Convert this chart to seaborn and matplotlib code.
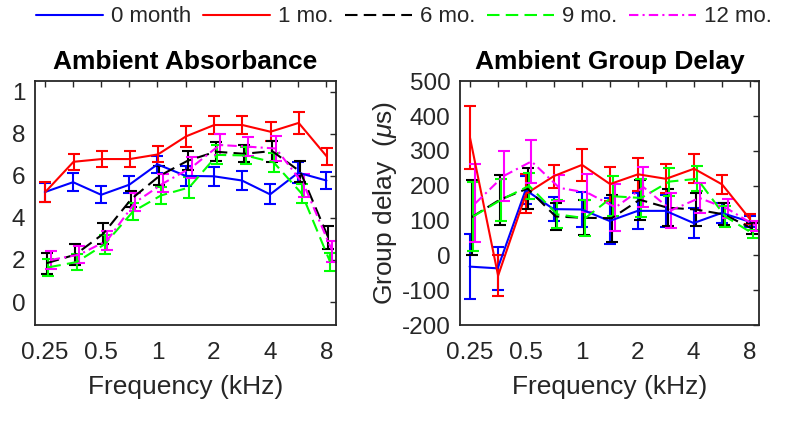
import numpy as np
import pandas as pd
import matplotlib
matplotlib.use('Agg')
import matplotlib.pyplot as plt
from matplotlib.lines import Line2D
import seaborn as sns

# frequencies (kHz), half-octave steps
freqs = [0.25, 0.354, 0.5, 0.707, 1.0, 1.414, 2.0, 2.828, 4.0, 5.657, 8.0]
freq_labels = ['0.25', '', '0.5', '', '1', '', '2', '', '4', '', '8']

groups = ['0 month', '1 mo.', '6 mo.', '9 mo.', '12 mo.']

# ambient absorbance (mean, error)
abs_0 = [0.523, 0.570, 0.510, 0.558, 0.655, 0.600, 0.598, 0.578, 0.512, 0.615, 0.578]
abs_0_err = [0.045, 0.042, 0.040, 0.040, 0.040, 0.048, 0.045, 0.043, 0.048, 0.050, 0.042]
abs_1 = [0.523, 0.667, 0.680, 0.680, 0.702, 0.788, 0.842, 0.842, 0.810, 0.852, 0.692]
abs_1_err = [0.047, 0.037, 0.037, 0.037, 0.038, 0.050, 0.045, 0.043, 0.045, 0.052, 0.040]
abs_6 = [0.185, 0.225, 0.324, 0.490, 0.600, 0.672, 0.715, 0.705, 0.718, 0.620, 0.305]
abs_6_err = [0.050, 0.050, 0.050, 0.040, 0.045, 0.045, 0.045, 0.040, 0.050, 0.050, 0.055]
abs_9 = [0.165, 0.190, 0.275, 0.430, 0.507, 0.545, 0.700, 0.697, 0.664, 0.515, 0.192]
abs_9_err = [0.040, 0.040, 0.045, 0.040, 0.040, 0.050, 0.045, 0.040, 0.045, 0.045, 0.043]
abs_12 = [0.200, 0.225, 0.292, 0.474, 0.565, 0.640, 0.747, 0.739, 0.730, 0.555, 0.242]
abs_12_err = [0.045, 0.040, 0.045, 0.043, 0.042, 0.050, 0.050, 0.045, 0.060, 0.055, 0.050]

# ambient group delay in microseconds (mean, error)
gd_0 = [-32, -37, 188, 133, 132, 99, 128, 128, 93, 122, 97]
gd_0_err = [94, 61, 40, 34, 50, 65, 52, 45, 42, 30, 15]
gd_1 = [338, -58, 177, 228, 260, 205, 233, 220, 249, 204, 104]
gd_1_err = [90, 58, 56, 33, 45, 50, 48, 42, 41, 27, 14]
gd_6 = [110, 160, 192, 112, 108, 107, 160, 137, 132, 118, 78]
gd_6_err = [108, 72, 58, 38, 50, 67, 58, 53, 47, 32, 15]
gd_9 = [112, 160, 200, 118, 107, 170, 165, 212, 220, 112, 62]
gd_9_err = [98, 60, 37, 40, 51, 58, 55, 40, 36, 30, 12]
gd_12 = [150, 228, 270, 194, 180, 138, 196, 130, 165, 134, 85]
gd_12_err = [112, 73, 61, 38, 55, 67, 57, 50, 43, 27, 15]

abs_means = [abs_0, abs_1, abs_6, abs_9, abs_12]
abs_errs = [abs_0_err, abs_1_err, abs_6_err, abs_9_err, abs_12_err]
gd_means = [gd_0, gd_1, gd_6, gd_9, gd_12]
gd_errs = [gd_0_err, gd_1_err, gd_6_err, gd_9_err, gd_12_err]

# styling (MATLAB-like)
colors = {'0 month': '#0000FF', '1 mo.': '#FF0000', '6 mo.': '#000000',
          '9 mo.': '#00FF00', '12 mo.': '#FF00FF'}
dashes = {'0 month': '', '1 mo.': '', '6 mo.': (6, 3),
          '9 mo.': (6, 3), '12 mo.': (4.5, 2, 1, 2)}
x_shift = [1.0, 1.005, 1.025, 1.045, 1.075]  # small horizontal jitter per group

sns.set_theme(style='white')
plt.rcParams['font.family'] = ['Liberation Sans', 'DejaVu Sans']
plt.rcParams['mathtext.fontset'] = 'custom'
plt.rcParams['mathtext.it'] = 'Liberation Sans:italic'
plt.rcParams['mathtext.rm'] = 'Liberation Sans'
plt.rcParams['axes.unicode_minus'] = False
text_c = '#262626'


def make_long(means):
    rows = []
    for g, m, s in zip(groups, means, x_shift):
        for f, v in zip(freqs, m):
            rows.append({'freq': f * s, 'value': v, 'group': g})
    return pd.DataFrame(rows)


fig = plt.figure(figsize=(8, 4.37), dpi=100)
ax1 = fig.add_axes([0.044, 0.256, 0.376, 0.558])
ax2 = fig.add_axes([0.575, 0.256, 0.374, 0.558])

for ax, means, errs in [(ax1, abs_means, abs_errs), (ax2, gd_means, gd_errs)]:
    df = make_long(means)
    for g, m, e, s in zip(groups, means, errs, x_shift):
        ax.errorbar(np.array(freqs) * s, m, yerr=e, fmt='none', ecolor=colors[g],
                    elinewidth=1.5, capsize=4.5, capthick=1.5, zorder=2)
    sns.lineplot(data=df, x='freq', y='value', hue='group', style='group',
                 palette=colors, dashes=dashes, hue_order=groups, style_order=groups,
                 linewidth=1.5, ax=ax, legend=False, zorder=3)
    ax.set_xscale('log')
    ax.set_xlim(0.222, 9.0)
    ax.set_xticks(freqs)
    ax.set_xticklabels(freq_labels)
    ax.minorticks_off()
    ax.set_xlabel('Frequency (kHz)', fontsize=19, color=text_c, labelpad=8)
    ax.tick_params(direction='in', length=4, width=1.0, top=True, right=True,
                   labelsize=17.5, colors=text_c, pad=7)
    ax.tick_params(axis='x', pad=12)
    for sp in ax.spines.values():
        sp.set_color(text_c)
        sp.set_linewidth(1.3)

ax1.set_ylim(-0.11, 1.05)
ax1.set_yticks([0, 0.2, 0.4, 0.6, 0.8, 1.0])
ax1.set_yticklabels(['0', '2', '4', '6', '8', '1'])
ax1.set_ylabel('')
ax1.set_title('Ambient Absorbance', fontsize=19, fontweight='bold', color='black', pad=9)

ax2.set_ylim(-200, 500)
ax2.set_yticks([-200, -100, 0, 100, 200, 300, 400, 500])
ax2.set_ylabel(r'Group delay  ($\mu$s)', fontsize=19, color=text_c, labelpad=2)
ax2.set_title('Ambient Group Delay', fontsize=19, fontweight='bold', color='black', pad=9)

# legend across the top
handles = []
for g in groups:
    h = Line2D([], [], color=colors[g], linewidth=1.5)
    if dashes[g]:
        h.set_dashes(dashes[g])
    handles.append(h)
fig.legend(handles, groups, loc='center', bbox_to_anchor=(0.505, 1 - 17 / 437),
           ncol=5, frameon=False, fontsize=16, handlelength=3.0,
           handletextpad=0.35, columnspacing=0.55, labelcolor=text_c)

fig.savefig('out.png', dpi=100)
